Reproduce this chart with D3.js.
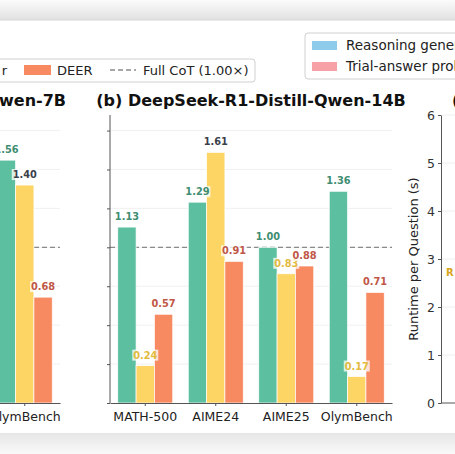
<!DOCTYPE html>
<html>
<head>
<meta charset="utf-8">
<script src="https://cdn.jsdelivr.net/npm/d3@7"></script>
<style>
  body { margin: 0; background: #fff; }
  svg { display: block; font-family: "DejaVu Sans", sans-serif; }
</style>
</head>
<body>
<div id="chart"></div>
<script>
// data
const benchmarks = ["MATH-500", "AIME24", "AIME25", "OlymBench"];
const methods = ["green", "yellow", "DEER"];
const qwen7B_cats = ["OlymBench"];               // panel (a): only this group is in frame
const qwen7B_green = [1.56];
const qwen7B_yellow = [1.40];
const qwen7B_deer = [0.68];
const qwen14B_green = [1.13, 1.29, 1.00, 1.36];
const qwen14B_yellow = [0.24, 1.61, 0.83, 0.17];
const qwen14B_deer = [0.57, 0.91, 0.88, 0.71];
const speedTicks = [0, 0.25, 0.5, 0.75, 1, 1.25, 1.5, 1.75];
const runtimeTicks = [0, 1, 2, 3, 4, 5, 6];

const barColor = {green: "#5cbf9f", yellow: "#fcd565", DEER: "#f88a62"};
const labelColor = {green: "#3f8d72", yellow: "#e2bb40", DEER: "#bf5747"};

const W = 455, H = 454;
const base = 403, top_ = 115;

const svg = d3.select("#chart").append("svg").attr("width", W).attr("height", H);

// screenshot frame: grey band at top, soft shadow at bottom
const defs = svg.append("defs");
const gTop = defs.append("linearGradient").attr("id", "topband").attr("x1", 0).attr("x2", 0).attr("y1", 0).attr("y2", 1);
gTop.append("stop").attr("offset", "0%").attr("stop-color", "#fbfbfb");
gTop.append("stop").attr("offset", "100%").attr("stop-color", "#e1e1e1");
const gBot = defs.append("linearGradient").attr("id", "botband").attr("x1", 0).attr("x2", 0).attr("y1", 0).attr("y2", 1);
gBot.append("stop").attr("offset", "0%").attr("stop-color", "#e6e6e6");
gBot.append("stop").attr("offset", "100%").attr("stop-color", "#f9f9f9");

svg.append("rect").attr("width", W).attr("height", H).attr("fill", "#fff");
svg.append("rect").attr("width", W).attr("height", 20).attr("fill", "url(#topband)");
svg.append("line").attr("x1", 0).attr("x2", W).attr("y1", 20).attr("y2", 20).attr("stroke", "#d6d6d6");
svg.append("rect").attr("y", 433).attr("width", W).attr("height", H - 433).attr("fill", "url(#botband)");

const y = d3.scaleLinear().domain([0, 1.85]).range([base, top_]);

function draw_panel(x0, x1, cats, shown, series, title, titleAnchor, titleX)
{
  const x = d3.scaleBand().domain(cats).range([x0, x1]).paddingInner(0).paddingOuter(0);
  const inner = d3.scaleBand().domain(methods).range([0, x.bandwidth() * 0.78]).padding(0);
  const off = (x.bandwidth() - inner.range()[1]) / 2;
  const g = svg.append("g");

  // grid
  g.selectAll(".grid")
    .data(speedTicks.slice(1))
    .join("line")
      .attr("x1", x0).attr("x2", x1)
      .attr("y1", d => y(d)).attr("y2", d => y(d))
      .attr("stroke", "#ececec").attr("stroke-width", 0.8);

  // full CoT reference
  g.append("line")
    .attr("x1", x0).attr("x2", x1)
    .attr("y1", y(1)).attr("y2", y(1))
    .attr("stroke", "#8a8a8a").attr("stroke-width", 1.3)
    .attr("stroke-dasharray", "5,3");

  const rows = [];
  shown.forEach((c, i) => methods.forEach((m, j) => rows.push({cat: c, m: m, v: series[j][i]})));

  g.selectAll("rect.bar")
    .data(rows)
    .join("rect")
      .attr("class", "bar")
      .attr("x", d => x(d.cat) + off + inner(d.m))
      .attr("width", inner.bandwidth())
      .attr("y", d => y(d.v))
      .attr("height", d => base - y(d.v))
      .attr("fill", d => barColor[d.m])
      .attr("stroke", "#fff").attr("stroke-width", 0.7);

  // value labels with a light box behind them
  const lab = g.selectAll("g.lab")
    .data(rows)
    .join("g")
      .attr("transform", d => `translate(${x(d.cat) + off + inner(d.m) + inner.bandwidth() / 2}, ${y(d.v) - 7})`);
  lab.append("rect")
    .attr("x", -13).attr("y", -9).attr("width", 26).attr("height", 11)
    .attr("fill", "#fff").attr("opacity", 0.75);
  lab.append("text")
    .attr("text-anchor", "middle")
    .attr("font-size", "9.8px")
    .attr("font-weight", "bold")
    .attr("fill", d => (d.m == "yellow" && d.v > 1) ? "#3a3f4a" : labelColor[d.m])
    .text(d => d.v.toFixed(2));

  // axes
  g.append("g")
    .attr("transform", `translate(0, ${base})`)
    .call(d3.axisBottom(x).tickValues(shown).tickSize(3).tickSizeOuter(0))
    .call(a => a.select(".domain").attr("stroke", "#555").attr("stroke-width", 1))
    .call(a => a.selectAll(".tick line").attr("stroke", "#555"))
    .call(a => a.selectAll("text").attr("font-size", "12.5px").attr("fill", "#222")
      .attr("font-family", "DejaVu Sans").attr("dy", "0.95em"));

  g.append("g")
    .attr("transform", `translate(${x0}, 0)`)
    .call(d3.axisLeft(y).tickValues(speedTicks).tickSize(3).tickSizeOuter(0).tickFormat(""))
    .call(a => a.select(".domain").attr("stroke", "#555").attr("stroke-width", 1)
      .attr("d", `M0,${base}V${top_}`))
    .call(a => a.selectAll(".tick line").attr("stroke", "#555"));

  svg.append("text")
    .attr("x", titleX).attr("y", 106)
    .attr("text-anchor", titleAnchor)
    .attr("font-size", "16px").attr("font-weight", "bold")
    .attr("fill", "#111")
    .text(title);
}

// panel (a): only its right edge is in frame
draw_panel(60 - 4 * 70.5, 60, benchmarks, qwen7B_cats, [qwen7B_green, qwen7B_yellow, qwen7B_deer],
  "(a) DeepSeek-R1-Distill-Qwen-7B", "end", 66);

// panel (b)
draw_panel(110, 392, benchmarks, benchmarks, [qwen14B_green, qwen14B_yellow, qwen14B_deer],
  "(b) DeepSeek-R1-Distill-Qwen-14B", "middle", 251);

// panel (c): runtime axis on the right edge
const yc = d3.scaleLinear().domain([0, 6]).range([base, top_]);
const gc = svg.append("g");
gc.selectAll("line.grid")
  .data(runtimeTicks.slice(1))
  .join("line")
    .attr("x1", 441).attr("x2", W)
    .attr("y1", d => yc(d)).attr("y2", d => yc(d))
    .attr("stroke", "#ececec").attr("stroke-width", 0.8);
gc.append("line").attr("x1", 441).attr("x2", W).attr("y1", base).attr("y2", base)
  .attr("stroke", "#555");
gc.append("g")
  .attr("transform", "translate(441, 0)")
  .call(d3.axisLeft(yc).tickValues(runtimeTicks).tickSize(3).tickSizeOuter(0).tickFormat(d3.format("d")))
  .call(a => a.select(".domain").attr("stroke", "#555"))
  .call(a => a.selectAll(".tick line").attr("stroke", "#555"))
  .call(a => a.selectAll("text").attr("font-size", "12.5px").attr("fill", "#333").attr("font-family", "DejaVu Sans"));
gc.append("text")
  .attr("transform", `translate(418, ${(base + top_) / 2}) rotate(-90)`)
  .attr("text-anchor", "middle")
  .attr("font-size", "13px").attr("fill", "#222")
  .text("Runtime per Question (s)");
gc.append("text")
  .attr("x", 446).attr("y", 276)
  .attr("font-size", "10px").attr("font-weight", "bold").attr("fill", "#d9a520")
  .text("R");
svg.append("text")
  .attr("x", 452).attr("y", 106)
  .attr("font-size", "16px").attr("font-weight", "bold").attr("fill", "#111")
  .text("(c)");

// legend 1 (method legend, cut at the left edge)
const leg1 = svg.append("g");
leg1.append("rect").attr("x", -6).attr("y", 59).attr("width", 261).attr("height", 23).attr("rx", 3)
  .attr("fill", "#fff").attr("stroke", "#d0d0d0");
leg1.append("text").attr("x", 7).attr("y", 75).attr("text-anchor", "end").attr("font-size", "13px").attr("fill", "#222").text("r");
leg1.append("rect").attr("x", 24).attr("y", 65).attr("width", 27).attr("height", 10).attr("fill", barColor.DEER);
leg1.append("text").attr("x", 57).attr("y", 75).attr("font-size", "13px").attr("fill", "#222").text("DEER");
leg1.append("line").attr("x1", 110).attr("x2", 136).attr("y1", 70).attr("y2", 70)
  .attr("stroke", "#8a8a8a").attr("stroke-width", 1.3).attr("stroke-dasharray", "5,3");
leg1.append("text").attr("x", 143).attr("y", 75).attr("font-size", "13px").attr("fill", "#222").text("Full CoT (1.00×)");

// legend 2 (runtime breakdown, cut at the right edge)
const leg2 = svg.append("g");
leg2.append("rect").attr("x", 305).attr("y", 33).attr("width", 170).attr("height", 46).attr("rx", 3)
  .attr("fill", "#fff").attr("stroke", "#d0d0d0");
leg2.append("rect").attr("x", 312).attr("y", 41).attr("width", 25).attr("height", 9).attr("fill", "#8ecbeb");
leg2.append("text").attr("x", 346).attr("y", 50).attr("font-size", "13.5px").attr("fill", "#222").text("Reasoning generation");
leg2.append("rect").attr("x", 312).attr("y", 62).attr("width", 25).attr("height", 9).attr("fill", "#f7a0a5");
leg2.append("text").attr("x", 346).attr("y", 71).attr("font-size", "13.5px").attr("fill", "#222").text("Trial-answer probing");
</script>
</body>
</html>
